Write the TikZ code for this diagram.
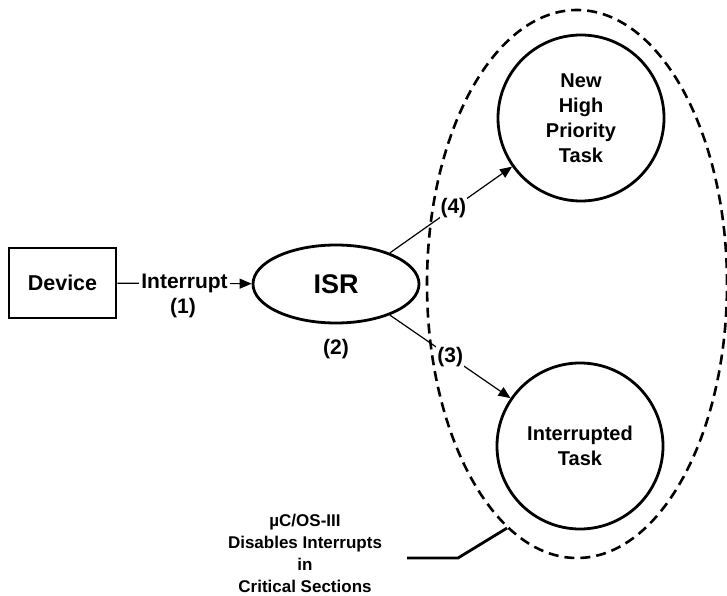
\documentclass[tikz,border=0pt]{standalone}
\usepackage{fontspec}
\setmainfont{Liberation Sans}
\usetikzlibrary{arrows.meta,shapes.geometric}
\begin{document}
\begin{tikzpicture}[x=1pt,y=-1pt,
  thick box/.style={draw,line width=2.8pt,inner sep=0pt},
  taskcircle/.style={thick box,circle,minimum size=166pt,align=center,font=\fontsize{20}{25}\selectfont\bfseries},
  lbl/.style={font=\fontsize{21}{24}\selectfont\bfseries,inner sep=1.5pt},
  flow/.style={line width=1.2pt,-{Triangle[length=12pt,width=10pt]}}
]
\useasboundingbox (0,0) rectangle (727,596);
\node[thick box,minimum width=107pt,minimum height=70pt,font=\fontsize{21.5}{24}\selectfont\bfseries] (dev) at (62.5,283) {Device};
\node[thick box,ellipse,minimum width=166pt,minimum height=78pt,font=\fontsize{27}{30}\selectfont\bfseries] (isr) at (336,284) {ISR};
\node[taskcircle] (nhp) at (581,118) {New\\High\\Priority\\Task};
\node[taskcircle] (itask) at (580,446) {Interrupted\\Task};
\node[ellipse,draw,dashed,dash pattern=on 10pt off 6pt,line width=2.6pt,minimum width=300pt,minimum height=548pt,inner sep=0pt] (region) at (577,284) {};
\node[lbl] (l1) at (183,308) {(1)};
\node[lbl] (l2) at (336,349) {(2)};
\draw[flow] (dev) -- node[lbl,fill=white,inner sep=2.5pt] (intr) {Interrupt} (isr);
\draw[flow] (isr.30) -- node[lbl,fill=white,inner sep=1pt,pos=0.52] (l4) {(4)} (nhp);
\draw[flow] (isr.-30) -- node[lbl,fill=white,inner sep=1pt,pos=0.5] (l3) {(3)} (itask);
\node[align=center,font=\fontsize{17}{22}\selectfont\bfseries] (note) at (305,553) {µC/OS-III\\Disables Interrupts\\in\\Critical Sections};
\coordinate (c0) at (407,558);
\coordinate (c1) at (458,558);
\draw[line width=2.8pt] (c0) -- (c1) -- (region.254);
\end{tikzpicture}
\end{document}
